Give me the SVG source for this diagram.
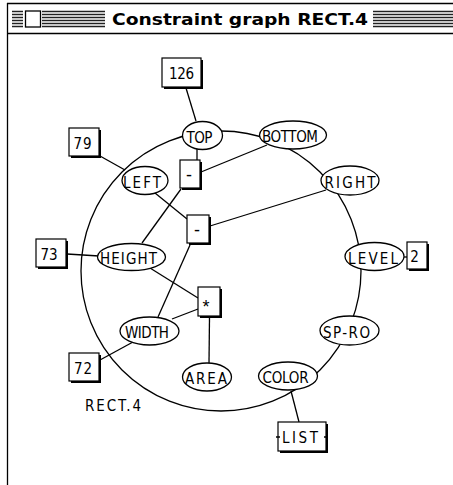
<svg xmlns="http://www.w3.org/2000/svg" width="453" height="485" viewBox="0 0 453 485">
  <style>
    .frame { stroke: #000; stroke-width: 1.3; fill: none; }
    .stripe { stroke: #222; stroke-width: 1.4; }
    .title { font-family: "DejaVu Sans", "Liberation Sans", sans-serif; font-weight: bold; font-size: 16px; fill: #000; }
    .ring { fill: none; stroke: #000; stroke-width: 1.3; }
    .edge { stroke: #000; stroke-width: 1.3; fill: none; }
    .var { fill: #fff; stroke: #000; stroke-width: 1.3; }
    .box { fill: #fff; stroke: #000; stroke-width: 1.2; }
    .shadow { fill: #000; }
    .lbl { font-family: "DejaVu Sans Condensed", "Liberation Sans", sans-serif; font-size: 15px; fill: #000; text-anchor: middle; }
    .op { font-family: "Liberation Sans", "DejaVu Sans", sans-serif; font-size: 18px; fill: #000; text-anchor: middle; }
  </style>

  <!-- window frame and title bar -->
  <g id="window">
    <rect x="0" y="0" width="453" height="485" fill="#fff"/>
    <line class="frame" x1="7.5" y1="3" x2="7.5" y2="485"/>
    <line class="frame" x1="7" y1="3.5" x2="453" y2="3.5"/>
    <line class="frame" x1="7" y1="33.5" x2="453" y2="33.5"/>
    <g id="title-stripes">
      <path class="stripe" d="M12 11.5H23M12 14.5H23M12 17.5H23M12 20.5H23M12 23.5H23M12 26.5H23"/>
      <path class="stripe" d="M42 11.5H105M42 14.5H105M42 17.5H105M42 20.5H105M42 23.5H105M42 26.5H105"/>
      <path class="stripe" d="M373 11.5H453M373 14.5H453M373 17.5H453M373 20.5H453M373 23.5H453M373 26.5H453"/>
    </g>
    <rect x="25.5" y="11" width="15" height="16" fill="#fff" stroke="#000" stroke-width="1.3"/>
    <text class="title" x="240" y="25" text-anchor="middle" textLength="256" lengthAdjust="spacingAndGlyphs">Constraint graph RECT.4</text>
  </g>

  <!-- ring that the slot nodes sit on -->
  <circle class="ring" cx="221" cy="271" r="140"/>
  <text class="lbl" x="113" y="411" textLength="56" lengthAdjust="spacing">RECT.4</text>

  <!-- connectors -->
  <g id="connectors">
    <line class="edge" x1="186" y1="88" x2="196" y2="121"/>
    <line class="edge" x1="100" y1="156" x2="125" y2="170"/>
    <line class="edge" x1="197" y1="149" x2="197" y2="160"/>
    <line class="edge" x1="201" y1="172" x2="267" y2="145"/>
    <line class="edge" x1="181" y1="189" x2="142" y2="243"/>
    <line class="edge" x1="155" y1="193" x2="187" y2="219"/>
    <line class="edge" x1="210" y1="226" x2="326" y2="190"/>
    <line class="edge" x1="190" y1="245" x2="158" y2="317"/>
    <line class="edge" x1="150" y1="268" x2="198" y2="298"/>
    <line class="edge" x1="172" y1="319" x2="198" y2="309"/>
    <line class="edge" x1="209.5" y1="317" x2="209" y2="363"/>
    <line class="edge" x1="67" y1="254" x2="99" y2="256"/>
    <line class="edge" x1="100" y1="360" x2="133" y2="342"/>
    <line class="edge" x1="404" y1="257" x2="407" y2="257"/>
    <line class="edge" x1="291" y1="391" x2="299" y2="422"/>
  </g>

  <!-- value boxes -->
  <g id="val-126">
    <rect class="shadow" x="164" y="60" width="39" height="29"/>
    <rect class="box" x="162" y="58" width="39" height="29"/>
    <text class="lbl" x="181.5" y="78.5" textLength="25" lengthAdjust="spacing">126</text>
  </g>
  <g id="val-79">
    <rect class="shadow" x="71" y="130" width="30" height="28"/>
    <rect class="box" x="69" y="128" width="30" height="28"/>
    <text class="lbl" x="82.5" y="148.5" textLength="18" lengthAdjust="spacing">79</text>
  </g>
  <g id="val-73">
    <rect class="shadow" x="38" y="241" width="30" height="28"/>
    <rect class="box" x="36" y="239" width="30" height="28"/>
    <text class="lbl" x="49" y="259.5" textLength="17" lengthAdjust="spacing">73</text>
  </g>
  <g id="val-72">
    <rect class="shadow" x="71" y="355" width="30" height="28"/>
    <rect class="box" x="69" y="353" width="30" height="28"/>
    <text class="lbl" x="83" y="373.5" textLength="18" lengthAdjust="spacing">72</text>
  </g>
  <g id="val-2">
    <rect class="shadow" x="409" y="244" width="20" height="27"/>
    <rect class="box" x="407" y="242" width="20" height="27"/>
    <text class="lbl" x="414.5" y="261.5">2</text>
  </g>
  <g id="val-list">
    <rect class="shadow" x="280" y="424" width="48" height="29"/>
    <rect class="box" x="278" y="422" width="48" height="29"/>
    <path class="edge" d="M276 437H280M324 437H328"/>
    <text class="lbl" x="300" y="442.5" textLength="36" lengthAdjust="spacing">LIST</text>
  </g>

  <!-- operator boxes -->
  <g id="op-minus-1">
    <rect class="shadow" x="182" y="162" width="20" height="28"/>
    <rect class="box" x="180" y="160" width="20" height="28"/>
    <text class="op" x="189" y="181">-</text>
  </g>
  <g id="op-minus-2">
    <rect class="shadow" x="189" y="217" width="22" height="28"/>
    <rect class="box" x="187" y="215" width="22" height="28"/>
    <text class="op" x="197" y="236">-</text>
  </g>
  <g id="op-times">
    <rect class="shadow" x="200" y="289" width="22" height="29"/>
    <rect class="box" x="198" y="287" width="22" height="29"/>
    <text class="op" x="206" y="313">*</text>
  </g>

  <!-- slot nodes -->
  <g id="slot-top">
    <ellipse class="var" cx="202.5" cy="135.5" rx="20" ry="14"/>
    <text class="lbl" x="199.5" y="142.5" textLength="26" lengthAdjust="spacing">TOP</text>
  </g>
  <g id="slot-bottom">
    <ellipse class="var" cx="293" cy="135" rx="33.5" ry="14"/>
    <text class="lbl" x="290" y="141.5" textLength="56" lengthAdjust="spacing">BOTTOM</text>
  </g>
  <g id="slot-left">
    <ellipse class="var" cx="145" cy="180.5" rx="23" ry="14"/>
    <text class="lbl" x="142" y="187.5" textLength="38" lengthAdjust="spacing">LEFT</text>
  </g>
  <g id="slot-right">
    <ellipse class="var" cx="350" cy="180.5" rx="29" ry="14.5"/>
    <text class="lbl" x="350" y="187.5" textLength="51" lengthAdjust="spacing">RIGHT</text>
  </g>
  <g id="slot-height">
    <ellipse class="var" cx="131.5" cy="257" rx="34" ry="13.5"/>
    <text class="lbl" x="128.5" y="263.5" textLength="57" lengthAdjust="spacing">HEIGHT</text>
  </g>
  <g id="slot-level">
    <ellipse class="var" cx="374.5" cy="256.5" rx="29.5" ry="14"/>
    <text class="lbl" x="373" y="263.5" textLength="50" lengthAdjust="spacing">LEVEL</text>
  </g>
  <g id="slot-width">
    <ellipse class="var" cx="149.5" cy="331" rx="29.5" ry="14"/>
    <text class="lbl" x="147" y="337.5" textLength="44" lengthAdjust="spacing">WIDTH</text>
  </g>
  <g id="slot-sp-ro">
    <ellipse class="var" cx="349.5" cy="330.5" rx="29.5" ry="14.5"/>
    <text class="lbl" x="346.5" y="337.5" textLength="47" lengthAdjust="spacing">SP-RO</text>
  </g>
  <g id="slot-area">
    <ellipse class="var" cx="207" cy="377" rx="24.5" ry="14"/>
    <text class="lbl" x="206" y="383.5" textLength="42" lengthAdjust="spacing">AREA</text>
  </g>
  <g id="slot-color">
    <ellipse class="var" cx="288" cy="376" rx="29.5" ry="14"/>
    <text class="lbl" x="285.5" y="382.5" textLength="46" lengthAdjust="spacing">COLOR</text>
  </g>
</svg>
